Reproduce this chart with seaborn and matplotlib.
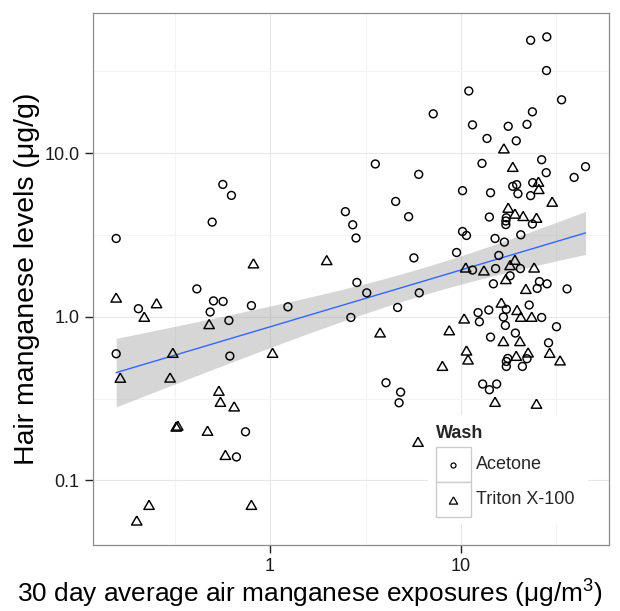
import numpy as np
import pandas as pd
import matplotlib
matplotlib.use("Agg")
import matplotlib.pyplot as plt
import seaborn as sns
from matplotlib.lines import Line2D
from matplotlib.patches import Rectangle
from matplotlib.ticker import FixedLocator, FixedFormatter, NullFormatter

# ---------------- data ----------------
acetone_air = [0.156, 0.565, 0.627, 0.497, 0.413, 0.204, 0.505, 0.567, 0.485, 0.798,
               0.608, 1.24, 0.156, 0.615, 0.743, 0.666, 7.16, 3.56, 6.01, 4.55,
               5.32, 2.48, 2.71, 2.82, 5.67, 2.85, 3.21, 6.05, 4.66, 2.65,
               4.05, 4.83, 4.74, 23.2, 28.2, 28.1, 11.0, 33.7, 23.7, 11.5,
               17.7, 22.2, 13.7, 19.5, 12.9, 26.5, 45.0, 28.0, 39.2, 10.2,
               14.3, 18.7, 19.6, 19.9, 23.8, 23.2, 14.1, 17.3, 17.2, 17.2,
               23.7, 10.2, 10.7, 15.1, 16.9, 20.6, 9.49, 15.8, 11.5, 15.2,
               18.1, 20.5, 14.8, 25.8, 28.3, 25.1, 36.0, 22.8, 12.3, 14.0,
               17.3, 12.5, 16.7, 26.5, 17.1, 31.7, 14.3, 19.3, 28.8, 17.6,
               17.3, 17.3, 21.0, 22.2, 13.0, 14.1, 15.4]
acetone_hair = [3.01, 6.44, 5.52, 3.79, 1.48, 1.12, 1.25, 1.24, 1.07, 1.17,
                0.949, 1.15, 0.594, 0.575, 0.198, 0.139, 17.4, 8.59, 7.42, 5.07,
                4.09, 4.39, 3.65, 3.03, 2.29, 1.62, 1.40, 1.40, 1.14, 0.99,
                0.395, 0.346, 0.298, 49.0, 51.4, 32.0, 24.0, 21.2, 17.9, 14.9,
                14.6, 15.0, 12.3, 11.9, 8.66, 9.12, 8.27, 7.60, 7.11, 5.90,
                5.73, 6.27, 6.42, 5.65, 6.60, 5.50, 4.07, 4.03, 3.85, 3.66,
                3.69, 3.32, 3.14, 3.01, 2.86, 3.17, 2.47, 2.37, 1.93, 1.97,
                1.78, 1.97, 1.59, 1.64, 1.59, 1.49, 1.48, 1.18, 1.06, 1.10,
                1.11, 0.932, 0.996, 0.99, 0.885, 0.869, 0.751, 0.795, 0.693, 0.556,
                0.533, 0.497, 0.497, 0.554, 0.388, 0.358, 0.388]

triton_air = [0.156, 0.254, 0.219, 0.818, 0.479, 0.309, 0.164, 0.299, 0.539, 0.549,
              0.648, 0.322, 0.328, 0.470, 0.583, 0.232, 0.200, 0.798, 1.03, 1.98,
              3.77, 8.69, 8.00, 5.96, 16.8, 18.7, 25.5, 25.6, 30.1, 17.7,
              19.2, 21.2, 24.9, 19.2, 10.6, 13.2, 18.1, 24.2, 17.2, 21.9,
              16.3, 19.7, 20.6, 23.5, 10.4, 16.7, 20.4, 10.7, 10.9, 19.5,
              22.5, 29.2, 33.1, 15.1, 24.9]
triton_hair = [1.31, 1.21, 1.00, 2.12, 0.902, 0.602, 0.424, 0.425, 0.353, 0.302,
               0.283, 0.213, 0.216, 0.201, 0.143, 0.0708, 0.0568, 0.0708, 0.602, 2.22,
               0.802, 0.827, 0.501, 0.172, 10.7, 8.25, 6.69, 6.04, 5.05, 4.64,
               4.27, 4.13, 4.03, 2.23, 2.00, 1.92, 2.07, 2.00, 1.70, 1.48,
               1.22, 1.10, 1.00, 1.00, 0.976, 0.710, 0.710, 0.622, 0.548, 0.577,
               0.605, 0.602, 0.541, 0.302, 0.294]

wash_names = ["Acetone", "Triton X-100"]
x_ticks = [1, 10]
x_tick_labels = ["1", "10"]
y_ticks = [0.1, 1, 10]
y_tick_labels = ["0.1", "1.0", "10.0"]
x_title = "30 day average air manganese exposures (\u03bcg/m$^{3}$)"
y_title = "Hair manganese levels (\u03bcg/g)"
legend_title = "Wash"

df = pd.DataFrame({
    "air": acetone_air + triton_air,
    "hair": acetone_hair + triton_hair,
    "wash": [wash_names[0]] * len(acetone_air) + [wash_names[1]] * len(triton_air),
})

# ---------------- style ----------------
sns.set_theme(style="white")
plt.rcParams["font.family"] = ["Liberation Sans", "DejaVu Sans"]
plt.rcParams["mathtext.fontset"] = "custom"
plt.rcParams["mathtext.rm"] = "Liberation Sans"
plt.rcParams["mathtext.it"] = "Liberation Sans:italic"
plt.rcParams["mathtext.bf"] = "Liberation Sans:bold"

TRI = [(0.0, 0.866), (-1.0, -0.866), (1.0, -0.866), (0.0, 0.866)]
markers = {wash_names[0]: "o", wash_names[1]: TRI}
sizes = {wash_names[0]: 32, wash_names[1]: 56}

W, H = 620, 611
fig = plt.figure(figsize=(W / 100, H / 100), dpi=100)
ax = fig.add_axes([92.7 / W, 1 - 544.7 / H, (609 - 92.7) / W, (544.7 - 12.7) / H])
ax.set_facecolor("white")
ax.set_xscale("log")
ax.set_yscale("log")

# ---------------- regression in log-log space with 95% CI ----------------
lx = np.log10(df["air"].to_numpy())
ly = np.log10(df["hair"].to_numpy())
slope, intercept = np.polyfit(lx, ly, 1)
n = len(lx)
resid = ly - (intercept + slope * lx)
s = np.sqrt(np.sum(resid ** 2) / (n - 2))
sxx = np.sum((lx - lx.mean()) ** 2)
grid = np.linspace(lx.min(), lx.max(), 120)
pred = intercept + slope * grid
se = s * np.sqrt(1.0 / n + (grid - lx.mean()) ** 2 / sxx)
tq = 1.976
fit = pd.DataFrame({"air": 10 ** grid, "hair": 10 ** pred,
                    "lo": 10 ** (pred - tq * se), "hi": 10 ** (pred + tq * se)})

ax.fill_between(fit["air"], fit["lo"], fit["hi"], color="#999999", alpha=0.4,
                linewidth=0, zorder=2)
sns.lineplot(data=fit, x="air", y="hair", color="#3366FF", linewidth=1.0,
             ax=ax, zorder=3, legend=False)

# ---------------- points ----------------
for w in wash_names:
    sub = df[df["wash"] == w]
    sns.scatterplot(data=sub, x="air", y="hair", marker=markers[w], s=sizes[w],
                    facecolors="none", edgecolors="black", linewidth=1.05,
                    ax=ax, zorder=4, legend=False)

# ---------------- axes limits (5% expansion in log space) ----------------
def expand(v):
    lo, hi = np.log10(np.min(v)), np.log10(np.max(v))
    pad = 0.05 * (hi - lo)
    return 10 ** (lo - pad), 10 ** (hi + pad)

ax.set_xlim(*expand(df["air"]))
ax.set_ylim(*expand(df["hair"]))

ax.xaxis.set_major_locator(FixedLocator(x_ticks))
ax.xaxis.set_major_formatter(FixedFormatter(x_tick_labels))
ax.yaxis.set_major_locator(FixedLocator(y_ticks))
ax.yaxis.set_major_formatter(FixedFormatter(y_tick_labels))
minor = [10 ** (k + 0.5) for k in range(-2, 3)]
ax.xaxis.set_minor_locator(FixedLocator(minor))
ax.yaxis.set_minor_locator(FixedLocator(minor))
ax.xaxis.set_minor_formatter(NullFormatter())
ax.yaxis.set_minor_formatter(NullFormatter())

ax.grid(True, which="major", color="#E8E8E8", linewidth=0.8, zorder=0)
ax.grid(True, which="minor", color="#F3F3F3", linewidth=0.8, zorder=0)
ax.set_axisbelow(True)
ax.tick_params(axis="both", which="major", direction="out", length=5.5, width=1.0,
               color="#222222", labelsize=13, labelcolor="#1a1a1a", pad=4,
               bottom=True, left=True)
ax.tick_params(axis="both", which="minor", length=0)
for sp in ax.spines.values():
    sp.set_color("#8C8C8C")
    sp.set_linewidth(0.9)
    sp.set_zorder(6)

ax.set_xlabel(x_title, fontsize=18.9, color="black")
ax.set_ylabel(y_title, fontsize=20.5, color="black")
ax.xaxis.set_label_coords((310 - 92.7) / 516.3, -0.062)
ax.yaxis.set_label_coords(-0.102, 0.5)

# ---------------- legend (ggplot-style keys, placed in pixel units) ----------------
def fx(px):
    return px / W

def fy(py):
    return 1 - py / H

fig.add_artist(Rectangle((fx(428), fy(524)), 160 / W, 109 / H, transform=fig.transFigure,
                         facecolor="white", edgecolor="none", zorder=8))
fig.text(fx(436), fy(433), legend_title, fontsize=13, fontweight="bold",
         ha="left", va="center", zorder=9)
key = 34.7
key_tops = [447.5, 447.5 + key]
legend_markers = [("o", 3.6), (TRI, 6.0)]
for name, top, (mk, ms) in zip(wash_names, key_tops, legend_markers):
    fig.add_artist(Rectangle((fx(436), fy(top + key)), key / W, key / H,
                             transform=fig.transFigure, facecolor="white",
                             edgecolor="#CCCCCC", linewidth=1.0, zorder=9))
    cy = top + key / 2
    fig.add_artist(Line2D([fx(436 + key / 2)], [fy(cy)], transform=fig.transFigure,
                          linestyle="none", marker=mk, markersize=ms,
                          markerfacecolor="none", markeredgecolor="black",
                          markeredgewidth=0.9, zorder=10))
    fig.text(fx(476), fy(cy), name, fontsize=13, ha="left", va="center", zorder=10)

fig.savefig("out.png", dpi=100, facecolor="white")
